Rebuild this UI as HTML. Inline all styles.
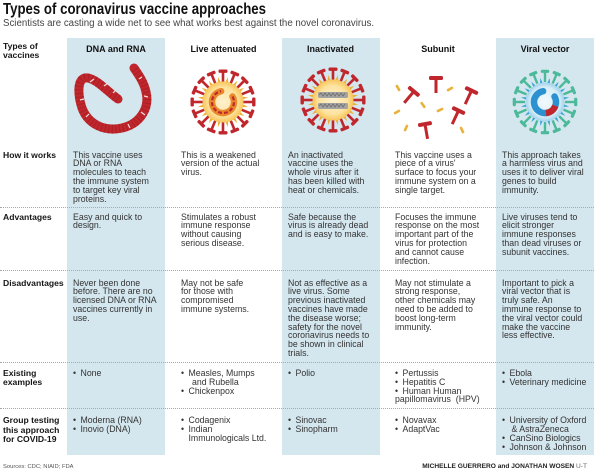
<!DOCTYPE html>
<html><head><meta charset="utf-8"><style>
*{margin:0;padding:0;box-sizing:border-box}
body{width:600px;height:473px;background:#fff;overflow:hidden;font-family:"Liberation Sans",Arial,sans-serif;color:#2b2b2b}
#c{position:relative;width:600px;height:473px}
.a{position:absolute;white-space:nowrap}
.sh{position:absolute;top:38px;height:417px;width:98px;background:#d4e6ee}
.t{font-size:8.75px;line-height:8.8px;color:#333}
.l{font-size:8.6px;line-height:9.5px;font-weight:bold;color:#151515;left:3px}
.h{font-size:9px;line-height:9px;font-weight:bold;color:#111;text-align:center;width:120px}
.dv{position:absolute;left:0;width:594px;height:0;border-top:1px dotted #a9a9a9}
.b{display:inline-block;width:7.5px}
</style></head><body><div id="c">
<div class="sh" style="left:67px"></div>
<div class="sh" style="left:282px"></div>
<div class="sh" style="left:496px"></div>

<div class="a" style="left:3px;top:2px;font-size:15.3px;line-height:15.3px;font-weight:bold;color:#111;transform:scaleX(0.865);transform-origin:0 0">Types of coronavirus vaccine approaches</div>
<div class="a" style="left:3px;top:19px;font-size:9.7px;line-height:9.7px;color:#444">Scientists are casting a wide net to see what works best against the novel coronavirus.</div>

<div class="a l" style="top:41.5px;line-height:9px">Types of<br>vaccines</div>
<div class="a h" style="left:56px;top:44.5px">DNA and RNA</div>
<div class="a h" style="left:163.5px;top:44.5px">Live attenuated</div>
<div class="a h" style="left:270.5px;top:44.5px">Inactivated</div>
<div class="a h" style="left:378px;top:44.5px">Subunit</div>
<div class="a h" style="left:485px;top:44.5px">Viral vector</div>

<svg class="a" style="left:0;top:0" width="600" height="160" viewBox="0 0 600 160">
<defs>
<g id="rs"><rect x="-1.3" y="-30" width="2.6" height="11" fill="#c0272d"/><rect x="-4.5" y="-32.5" width="9" height="3.4" rx="1.2" fill="#c0272d"/></g>
<g id="ys"><path d="M-1.5,-20 L0,-25.5 L1.5,-20 Z" fill="#efaf35"/></g>
<g id="gs"><rect x="-1.2" y="-30" width="2.4" height="10" fill="#4cb99a"/><rect x="-4.2" y="-32.3" width="8.4" height="3.2" rx="1.2" fill="#4cb99a"/></g>
<g id="bs"><path d="M-1.3,-19 L0,-24.5 L1.3,-19 Z" fill="#35a2d8"/></g>
<radialGradient id="yg"><stop offset="0" stop-color="#fdf1cf"/><stop offset="0.7" stop-color="#fde3a0"/><stop offset="1" stop-color="#f8c65a"/></radialGradient>
<radialGradient id="bg"><stop offset="0" stop-color="#f2f9fc"/><stop offset="0.75" stop-color="#d9eef7"/><stop offset="1" stop-color="#9fd2ec"/></radialGradient>
</defs>
<!-- DNA/RNA strand -->
<path d="M118,99 C108,92 98,80 88,78 C76,76 78,96 82,108 C88,124 104,132 122,128 C140,124 150,108 146,92 C144,82 138,74 134,68" fill="none" stroke="#c0272d" stroke-width="9" stroke-linecap="round"/>
<path d="M118,99 C108,92 98,80 88,78 C76,76 78,96 82,108 C88,124 104,132 122,128 C140,124 150,108 146,92 C144,82 138,74 134,68" fill="none" stroke="#9b1a1f" stroke-width="9" stroke-dasharray="1 2.6" opacity="0.55"/>
<g stroke="#f4dede" stroke-width="1.2">
<line x1="90" y1="82" x2="94" y2="79"/><line x1="104" y1="86" x2="108" y2="83"/><line x1="113" y1="93" x2="116" y2="90"/><line x1="80" y1="100" x2="84" y2="99"/><line x1="86" y1="117" x2="89" y2="114"/><line x1="141" y1="112" x2="145" y2="115"/><line x1="144" y1="96" x2="148" y2="97"/><line x1="128" y1="124" x2="130" y2="128"/><line x1="139" y1="79" x2="142" y2="77"/>
</g>
<!-- Live attenuated -->
<g transform="translate(223,102)">
<g id="ysr"><use href="#ys" transform="rotate(11)"/><use href="#ys" transform="rotate(34)"/><use href="#ys" transform="rotate(56)"/><use href="#ys" transform="rotate(79)"/><use href="#ys" transform="rotate(101)"/><use href="#ys" transform="rotate(124)"/><use href="#ys" transform="rotate(146)"/><use href="#ys" transform="rotate(169)"/><use href="#ys" transform="rotate(191)"/><use href="#ys" transform="rotate(214)"/><use href="#ys" transform="rotate(236)"/><use href="#ys" transform="rotate(259)"/><use href="#ys" transform="rotate(281)"/><use href="#ys" transform="rotate(304)"/><use href="#ys" transform="rotate(326)"/><use href="#ys" transform="rotate(349)"/></g>
<g id="rsr"><use href="#rs"/><use href="#rs" transform="rotate(22.5)"/><use href="#rs" transform="rotate(45)"/><use href="#rs" transform="rotate(67.5)"/><use href="#rs" transform="rotate(90)"/><use href="#rs" transform="rotate(112.5)"/><use href="#rs" transform="rotate(135)"/><use href="#rs" transform="rotate(157.5)"/><use href="#rs" transform="rotate(180)"/><use href="#rs" transform="rotate(202.5)"/><use href="#rs" transform="rotate(225)"/><use href="#rs" transform="rotate(247.5)"/><use href="#rs" transform="rotate(270)"/><use href="#rs" transform="rotate(292.5)"/><use href="#rs" transform="rotate(315)"/><use href="#rs" transform="rotate(337.5)"/></g>
<circle r="20.5" fill="url(#yg)"/>
<path d="M9.5,-5.5 A11,11 0 1 1 -1.9,-10.8" fill="none" stroke="#e8892b" stroke-width="6.5" stroke-linecap="round"/>
<path d="M9.5,-5.5 A11,11 0 1 1 -1.9,-10.8" fill="none" stroke="#c0272d" stroke-width="2.2" stroke-dasharray="4 2"/>
</g>
<!-- Inactivated -->
<g transform="translate(333,100)">
<use href="#ysr"/><use href="#rsr"/>
<circle r="20.5" fill="url(#yg)"/>
<rect x="-15" y="-8" width="30" height="6" rx="1.5" fill="#a3a3a3"/>
<rect x="-15" y="3" width="30" height="6" rx="1.5" fill="#a3a3a3"/>
<path d="M-14,-5 l2,-2 2,3 2,-3 2,3 2,-3 2,3 2,-3 2,3 2,-3 2,3 2,-3 2,3 2,-3" fill="none" stroke="#6e6e6e" stroke-width="0.8"/>
<path d="M-14,6 l2,-2 2,3 2,-3 2,3 2,-3 2,3 2,-3 2,3 2,-3 2,3 2,-3 2,3 2,-3" fill="none" stroke="#6e6e6e" stroke-width="0.8"/>
</g>
<!-- Subunit -->
<g fill="#c0272d">
<g transform="translate(436,84)"><rect x="-1.5" y="-6" width="3" height="15"/><rect x="-7" y="-8" width="14" height="4" rx="1.5"/></g>
<g transform="translate(410,96) rotate(40)"><rect x="-1.5" y="-6" width="3" height="15"/><rect x="-7" y="-8" width="14" height="4" rx="1.5"/></g>
<g transform="translate(469,96) rotate(25)"><rect x="-1.5" y="-6" width="3" height="15"/><rect x="-7" y="-8" width="14" height="4" rx="1.5"/></g>
<g transform="translate(456,116) rotate(25)"><rect x="-1.5" y="-6" width="3" height="15"/><rect x="-7" y="-8" width="14" height="4" rx="1.5"/></g>
<g transform="translate(426,130) rotate(-10)"><rect x="-1.5" y="-6" width="3" height="15"/><rect x="-7" y="-8" width="14" height="4" rx="1.5"/></g>
</g>
<g fill="#e8b23c">
<rect x="-1.3" y="-3.5" width="2.6" height="7" rx="1" transform="translate(398,88) rotate(-30)"/>
<rect x="-1.3" y="-3.5" width="2.6" height="7" rx="1" transform="translate(423,105) rotate(-35)"/>
<rect x="-1.3" y="-3.5" width="2.6" height="7" rx="1" transform="translate(397,112) rotate(60)"/>
<rect x="-1.3" y="-3.5" width="2.6" height="7" rx="1" transform="translate(406,128) rotate(25)"/>
<rect x="-1.3" y="-3.5" width="2.6" height="7" rx="1" transform="translate(440,110) rotate(65)"/>
<rect x="-1.3" y="-3.5" width="2.6" height="7" rx="1" transform="translate(450,89) rotate(60)"/>
<rect x="-1.3" y="-3.5" width="2.6" height="7" rx="1" transform="translate(462,130) rotate(-25)"/>
</g>
<!-- Viral vector -->
<g transform="translate(545,102)">
<use href="#bs" transform="rotate(11)"/><use href="#bs" transform="rotate(34)"/><use href="#bs" transform="rotate(56)"/><use href="#bs" transform="rotate(79)"/><use href="#bs" transform="rotate(101)"/><use href="#bs" transform="rotate(124)"/><use href="#bs" transform="rotate(146)"/><use href="#bs" transform="rotate(169)"/><use href="#bs" transform="rotate(191)"/><use href="#bs" transform="rotate(214)"/><use href="#bs" transform="rotate(236)"/><use href="#bs" transform="rotate(259)"/><use href="#bs" transform="rotate(281)"/><use href="#bs" transform="rotate(304)"/><use href="#bs" transform="rotate(326)"/><use href="#bs" transform="rotate(349)"/>
<use href="#gs"/><use href="#gs" transform="rotate(22.5)"/><use href="#gs" transform="rotate(45)"/><use href="#gs" transform="rotate(67.5)"/><use href="#gs" transform="rotate(90)"/><use href="#gs" transform="rotate(112.5)"/><use href="#gs" transform="rotate(135)"/><use href="#gs" transform="rotate(157.5)"/><use href="#gs" transform="rotate(180)"/><use href="#gs" transform="rotate(202.5)"/><use href="#gs" transform="rotate(225)"/><use href="#gs" transform="rotate(247.5)"/><use href="#gs" transform="rotate(270)"/><use href="#gs" transform="rotate(292.5)"/><use href="#gs" transform="rotate(315)"/><use href="#gs" transform="rotate(337.5)"/>
<circle r="19.5" fill="url(#bg)"/>
<path d="M9.5,-5.5 A11,11 0 1 1 -1.9,-10.8" fill="none" stroke="#2b91d0" stroke-width="6.5" stroke-linecap="round"/>
<path d="M10.3,3.8 A11,11 0 0 1 1,11" fill="none" stroke="#c0272d" stroke-width="6.5"/>
</g>
</svg>

<div class="dv" style="top:207px"></div>
<div class="dv" style="top:270px"></div>
<div class="dv" style="top:362px"></div>
<div class="dv" style="top:408px"></div>

<div class="a l" style="top:150.5px">How it works</div>
<div class="a t" style="left:73px;top:150.6px">This vaccine uses<br>DNA or RNA<br>molecules to teach<br>the immune system<br>to target key viral<br>proteins.</div>
<div class="a t" style="left:181px;top:150.6px">This is a weakened<br>version of the actual<br>virus.</div>
<div class="a t" style="left:288px;top:150.6px">An inactivated<br>vaccine uses the<br>whole virus after it<br>has been killed with<br>heat or chemicals.</div>
<div class="a t" style="left:395px;top:150.6px">This vaccine uses a<br>piece of a virus'<br>surface to focus your<br>immune system on a<br>single target.</div>
<div class="a t" style="left:502px;top:150.6px">This approach takes<br>a harmless virus and<br>uses it to deliver viral<br>genes to build<br>immunity.</div>

<div class="a l" style="top:212.5px">Advantages</div>
<div class="a t" style="left:73px;top:212.6px">Easy and quick to<br>design.</div>
<div class="a t" style="left:181px;top:212.6px">Stimulates a robust<br>immune response<br>without causing<br>serious disease.</div>
<div class="a t" style="left:288px;top:212.6px">Safe because the<br>virus is already dead<br>and is easy to make.</div>
<div class="a t" style="left:395px;top:212.6px">Focuses the immune<br>response on the most<br>important part of the<br>virus for protection<br>and cannot cause<br>infection.</div>
<div class="a t" style="left:502px;top:212.6px">Live viruses tend to<br>elicit stronger<br>immune responses<br>than dead viruses or<br>subunit vaccines.</div>

<div class="a l" style="top:278.5px">Disadvantages</div>
<div class="a t" style="left:73px;top:278.6px">Never been done<br>before. There are no<br>licensed DNA or RNA<br>vaccines currently in<br>use.</div>
<div class="a t" style="left:181px;top:278.6px">May not be safe<br>for those with<br>compromised<br>immune systems.</div>
<div class="a t" style="left:288px;top:278.6px">Not as effective as a<br>live virus. Some<br>previous inactivated<br>vaccines have made<br>the disease worse;<br>safety for the novel<br>coronavirus needs to<br>be shown in clinical<br>trials.</div>
<div class="a t" style="left:395px;top:278.6px">May not stimulate a<br>strong response,<br>other chemicals may<br>need to be added to<br>boost long-term<br>immunity.</div>
<div class="a t" style="left:502px;top:278.6px">Important to pick a<br>viral vector that is<br>truly safe. An<br>immune response to<br>the viral vector could<br>make the vaccine<br>less effective.</div>

<div class="a l" style="top:369px;line-height:9px">Existing<br>examples</div>
<div class="a t" style="left:73px;top:369px"><span class="b">•</span>None</div>
<div class="a t" style="left:181px;top:369px"><span class="b">•</span>Measles, Mumps<br><span style="padding-left:11px">and Rubella</span><br><span class="b">•</span>Chickenpox</div>
<div class="a t" style="left:288px;top:369px"><span class="b">•</span>Polio</div>
<div class="a t" style="left:395px;top:369px"><span class="b">•</span>Pertussis<br><span class="b">•</span>Hepatitis C<br><span class="b">•</span>Human Human<br>papillomavirus&nbsp; (HPV)</div>
<div class="a t" style="left:502px;top:369px"><span class="b">•</span>Ebola<br><span class="b">•</span>Veterinary medicine</div>

<div class="a l" style="top:416px">Group testing<br>this approach<br>for COVID-19</div>
<div class="a t" style="left:73px;top:416.3px"><span class="b">•</span>Moderna (RNA)<br><span class="b">•</span>Inovio (DNA)</div>
<div class="a t" style="left:181px;top:416.3px"><span class="b">•</span>Codagenix<br><span class="b">•</span>Indian<br><span style="padding-left:7.5px">Immunologicals Ltd.</span></div>
<div class="a t" style="left:288px;top:416.3px"><span class="b">•</span>Sinovac<br><span class="b">•</span>Sinopharm</div>
<div class="a t" style="left:395px;top:416.3px"><span class="b">•</span>Novavax<br><span class="b">•</span>AdaptVac</div>
<div class="a t" style="left:502px;top:416.3px"><span class="b">•</span>University of Oxford<br><span style="padding-left:9.5px">&amp; AstraZeneca</span><br><span class="b">•</span>CanSino Biologics<br><span class="b">•</span>Johnson &amp; Johnson</div>

<div class="a" style="left:3px;top:463.5px;font-size:5.8px;line-height:7px;color:#555">Sources: CDC; NIAID; FDA</div>
<div class="a" style="right:13px;top:463px;font-size:6.6px;line-height:8px;color:#222;text-align:right"><b>MICHELLE GUERRERO and JONATHAN WOSEN</b> <span style="color:#666">U-T</span></div>
</div></body></html>
